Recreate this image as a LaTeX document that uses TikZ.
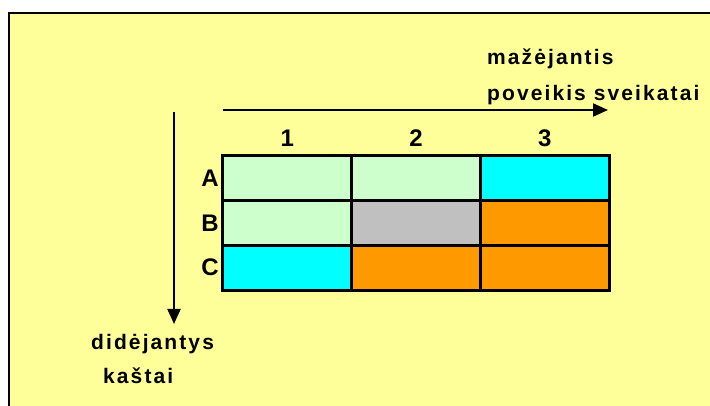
\documentclass[tikz,border=0pt]{standalone}
\usepackage{fontspec}
\setmainfont{Liberation Sans}
\newfontfamily\captionfont[LetterSpace=10]{Liberation Sans}
\usetikzlibrary{positioning,arrows.meta}

\definecolor{panelyellow}{HTML}{FFFF99}
\definecolor{mint}{HTML}{CCFFCC}
\definecolor{aqua}{HTML}{00FFFF}
\definecolor{silver}{HTML}{C0C0C0}
\definecolor{amber}{HTML}{FF9900}

\tikzset{
    cell/.style={draw, line width=3pt, minimum width=128.7pt, minimum height=44.7pt,
        inner sep=0pt, outer sep=0pt},
    axis/.style={line width=2pt, -{Triangle[length=15pt,width=13pt]}},
    caption/.style={font=\captionfont\bfseries\fontsize{21}{25}\selectfont, inner sep=0pt, anchor=base west},
    index/.style={font=\bfseries\fontsize{24}{28}\selectfont, inner sep=0pt}
}

\begin{document}
\begin{tikzpicture}[x=1pt, y=-1pt]
    \useasboundingbox (0,0) rectangle (710,406);

    % yellow panel with black top and left edge
    \fill[panelyellow] (9,13) rectangle (710,406);
    \draw[line width=2.5pt] (9,406) -- (9,13) -- (710,13);

    % 3x3 matrix of cells
    \node[cell, fill=mint] (a1) at (287.3,178.3) {};
    \node[cell, fill=mint, right=0pt of a1] (a2) {};
    \node[cell, fill=aqua, right=0pt of a2] (a3) {};
    \node[cell, fill=mint, below=0pt of a1] (b1) {};
    \node[cell, fill=silver, right=0pt of b1] (b2) {};
    \node[cell, fill=amber, right=0pt of b2] (b3) {};
    \node[cell, fill=aqua, below=0pt of b1] (c1) {};
    \node[cell, fill=amber, right=0pt of c1] (c2) {};
    \node[cell, fill=amber, right=0pt of c2] (c3) {};

    % column and row indices
    \node[index, above=9pt of a1] (col1) {1};
    \node[index, above=9pt of a2] (col2) {2};
    \node[index, above=9pt of a3] (col3) {3};
    \node[index, left=4pt of a1] (rowA) {A};
    \node[index, left=4pt of b1] (rowB) {B};
    \node[index, left=4pt of c1] (rowC) {C};

    % axes
    \coordinate (hstart) at (223,110);
    \coordinate (hend) at (608,110);
    \coordinate (vstart) at (174,112);
    \coordinate (vend) at (174,324);
    \draw[axis] (hstart) -- (hend);
    \draw[axis] (vstart) -- (vend);

    % axis captions
    \node[caption] (impact1) at (487,65) {mažėjantis};
    \node[caption] (impact2) at (487,101) {poveikis sveikatai};
    \node[caption] (cost1) at (91,349) {didėjantys};
    \node[caption] (cost2) at (103,383) {kaštai};
\end{tikzpicture}
\end{document}
